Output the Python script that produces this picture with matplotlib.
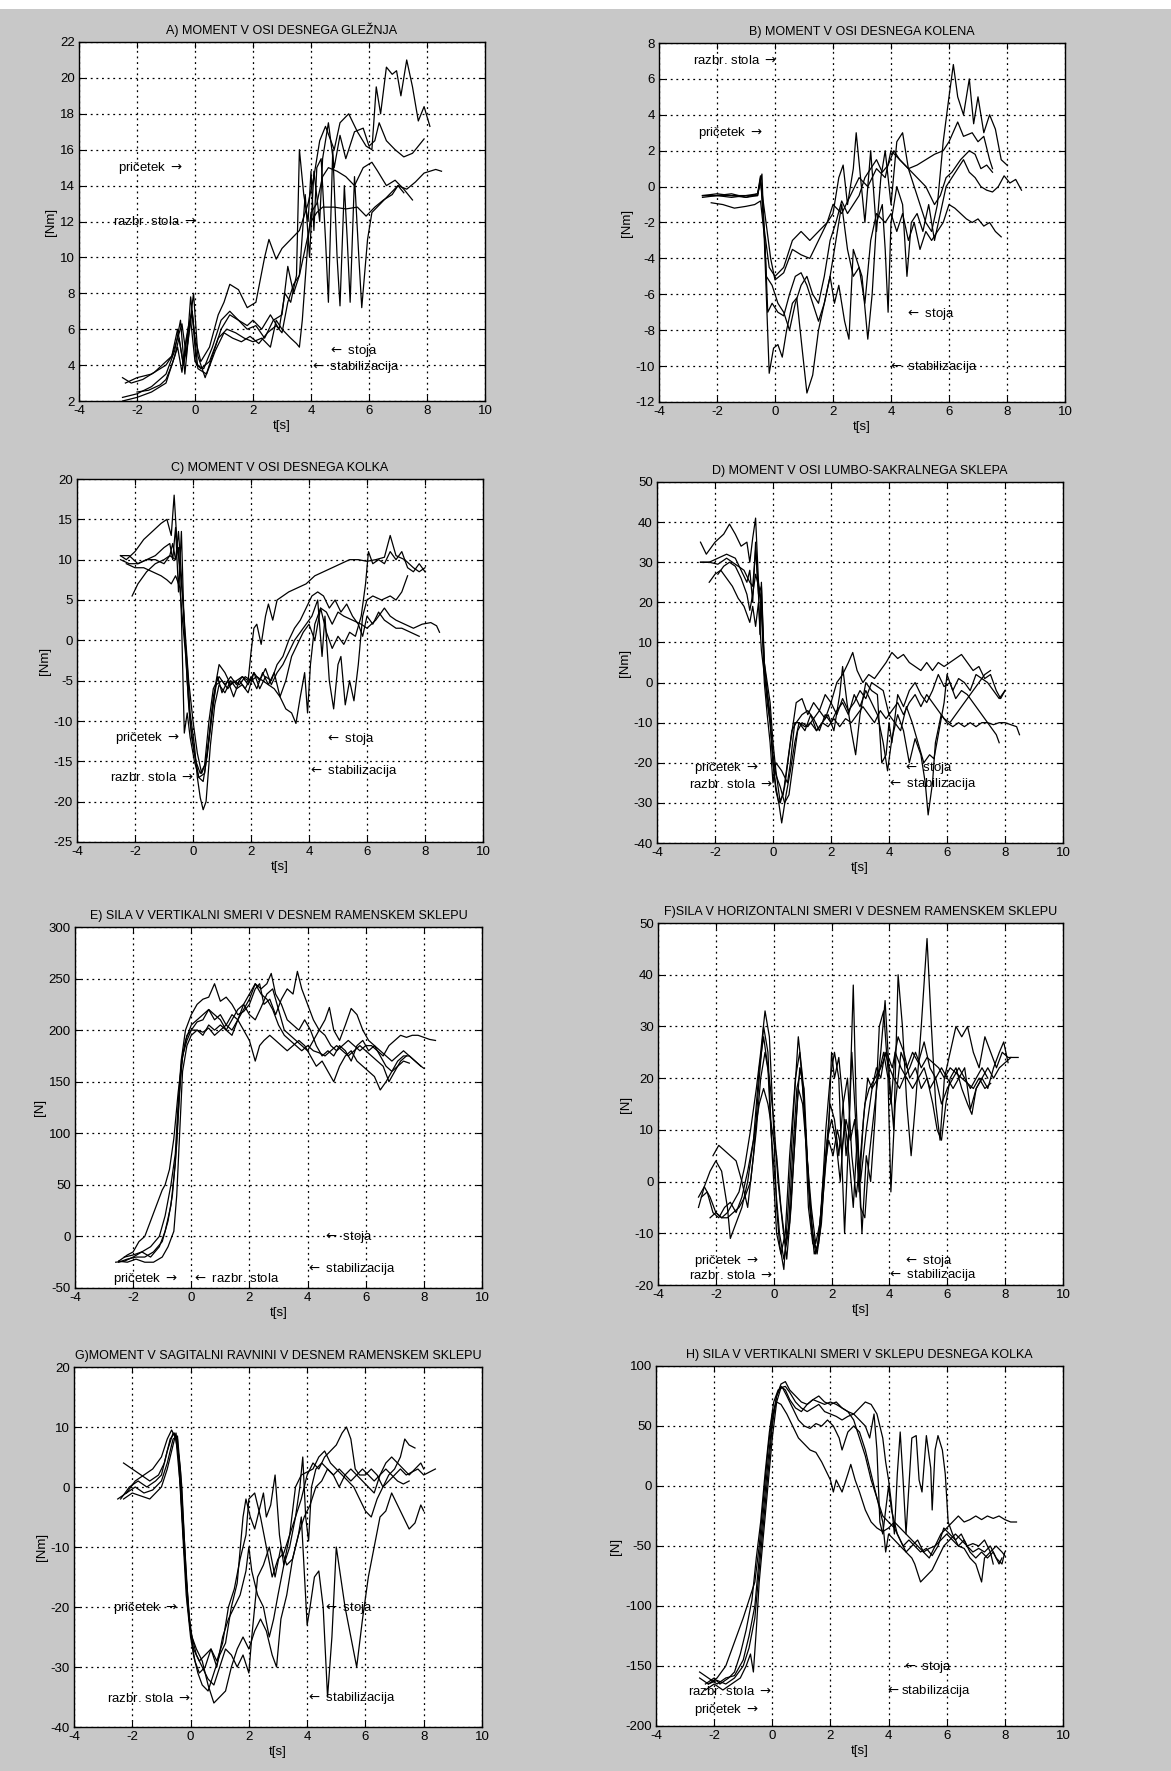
import matplotlib
matplotlib.use('Agg')
import matplotlib.pyplot as plt
from matplotlib.patches import Rectangle

plt.rcParams['font.family'] = ['Liberation Sans', 'DejaVu Sans']
plt.rcParams['mathtext.fontset'] = 'dejavusans'

RA = r'$\rightarrow$'
LA = r'$\leftarrow$'

# ---------------- A) ankle moment [Nm] ----------------
A1_t = [-2.5,-2.2,-1.8,-1.4,-1.0,-0.8,-0.6,-0.45,-0.3,-0.15,0.0,0.2,0.5,0.8,1.0,1.2,1.5,1.8,2.1,2.4,2.55,2.8,3.0,3.3,3.6,3.9,4.1,4.3,4.5,4.8,5.0,5.3,5.6,5.9,6.1,6.25,6.4,6.6,6.8,6.95,7.1,7.3,7.5,7.7,7.9,8.1]
A1_y = [3.3,3.0,3.2,3.6,4.2,4.5,5.5,6.3,4.5,7.8,5.5,4.2,5.0,6.8,7.5,8.5,8.2,7.2,7.5,10.0,11.0,9.9,10.5,11.0,11.5,13.0,14.5,16.5,17.3,16.0,17.5,18.0,17.0,16.2,16.0,19.5,18.0,20.6,20.2,20.4,19.0,21.0,19.5,17.6,18.4,17.3]
A2_t = [-2.5,-2.0,-1.5,-1.0,-0.7,-0.5,-0.35,-0.2,-0.05,0.1,0.35,0.6,0.9,1.2,1.5,1.8,2.1,2.4,2.7,3.0,3.2,3.4,3.6,3.8,3.95,4.1,4.3,4.4,4.6,4.8,5.0,5.2,5.5,5.8,6.0,6.2,6.35,6.6,6.9,7.2,7.5,7.8,7.9]
A2_y = [2.2,2.4,2.8,3.5,4.8,6.5,3.5,6.0,8.0,4.5,3.3,4.5,6.0,6.8,6.5,6.0,6.2,5.5,6.5,6.8,9.5,8.0,9.0,13.5,10.0,14.8,12.0,15.5,17.5,15.0,16.8,15.5,17.0,17.2,16.2,16.5,17.5,16.5,16.0,15.6,15.8,16.4,16.6]
A3_t = [-2.4,-2.0,-1.5,-1.0,-0.8,-0.6,-0.4,-0.25,-0.1,0.05,0.3,0.6,0.9,1.2,1.5,1.8,2.0,2.3,2.6,2.9,3.1,3.3,3.5,3.6,3.75,3.9,4.0,4.1,4.2,4.35,4.5,4.6,4.75,4.9,5.0,5.15,5.25,5.35,5.5,5.65,5.75,5.95,6.1,6.4,6.7,7.0,7.3,7.6,7.9,8.1,8.3,8.5]
A3_y = [3.0,3.3,3.5,4.0,4.5,6.0,4.0,5.2,7.0,4.0,3.8,5.0,6.5,7.0,6.5,6.2,6.5,6.0,6.8,6.0,8.0,7.5,9.0,16.0,13.5,12.0,14.8,11.5,15.0,15.5,11.0,7.5,16.0,10.0,7.3,14.0,11.0,7.5,14.5,10.0,7.2,11.0,12.5,13.0,13.5,14.0,13.8,14.2,14.7,14.8,14.9,14.8]
A4_t = [-2.0,-1.6,-1.2,-1.0,-0.8,-0.6,-0.45,-0.3,-0.15,0.0,0.2,0.5,0.8,1.1,1.4,1.7,2.0,2.3,2.6,2.8,3.0,3.3,3.5,3.6,3.7,3.9,4.0,4.2,4.4,4.6,4.9,5.2,5.5,5.8,6.1,6.3,6.6,6.9,7.2,7.5]
A4_y = [2.5,2.6,2.9,3.2,4.0,5.0,3.6,5.5,6.5,4.2,3.8,4.2,5.5,6.0,5.8,5.5,5.3,5.5,5.0,6.5,6.0,5.5,5.2,5.0,6.5,11.0,12.5,13.0,14.5,15.0,14.8,14.5,14.0,15.0,15.3,14.8,14.0,14.3,13.8,13.2]
A5_t = [-2.5,-2.0,-1.5,-1.0,-0.7,-0.55,-0.4,-0.25,-0.1,0.1,0.4,0.7,1.0,1.3,1.6,1.9,2.2,2.5,2.8,3.0,3.2,3.4,3.6,3.8,4.0,4.2,4.4,4.8,5.2,5.6,5.9,6.2,6.5,6.8,7.0,7.2]
A5_y = [2.0,2.2,2.5,3.0,4.5,5.5,4.0,6.0,7.0,3.8,3.5,4.8,5.8,5.5,5.3,5.6,5.2,5.8,6.2,5.8,7.5,8.5,9.0,10.5,12.0,12.5,12.8,12.8,12.7,12.8,12.3,12.8,13.2,13.5,14.0,13.6]

# ---------------- B) knee moment [Nm] ----------------
B1_t = [-2.5,-2.0,-1.5,-1.0,-0.6,-0.5,-0.4,-0.2,0.0,0.3,0.6,0.9,1.2,1.5,1.8,2.0,2.2,2.35,2.5,2.7,2.8,2.95,3.1,3.3,3.5,3.65,3.8,4.0,4.2,4.4,4.6,4.8,5.0,5.2,5.4,5.6,5.8,6.0,6.15,6.3,6.5,6.7,6.85,7.0,7.2,7.4,7.6,7.8,8.0]
B1_y = [-0.5,-0.5,-0.6,-0.5,-0.4,0.6,-2.0,-4.5,-5.0,-4.5,-3.0,-2.5,-3.0,-2.5,-2.0,-1.5,0.5,1.2,-1.0,1.0,3.0,0.5,-2.0,2.0,-2.5,0.5,2.0,-1.0,2.5,3.0,1.0,0.0,-1.0,-2.0,-2.5,-1.0,2.5,5.0,6.8,5.0,4.0,6.0,3.5,5.0,3.0,4.0,3.2,1.5,1.2]
B2_t = [-2.5,-2.0,-1.5,-1.0,-0.6,-0.5,-0.35,-0.15,0.0,0.3,0.6,0.9,1.2,1.5,1.8,2.0,2.3,2.6,2.9,3.2,3.5,3.8,4.0,4.3,4.6,4.9,5.2,5.5,5.8,6.0,6.3,6.5,6.8,7.0,7.2,7.4,7.5]
B2_y = [-0.5,-0.4,-0.5,-0.6,-0.4,0.3,-1.5,-4.0,-5.2,-4.8,-3.5,-3.8,-4.0,-3.0,-2.0,-1.0,-1.5,-0.5,0.5,0.0,1.0,0.5,2.0,1.5,1.0,1.2,1.5,1.8,2.0,2.5,3.6,2.8,3.0,2.5,2.8,1.5,1.0]
B3_t = [-2.5,-2.0,-1.5,-1.0,-0.6,-0.45,-0.3,-0.2,-0.05,0.1,0.25,0.4,0.6,0.75,0.9,1.1,1.3,1.5,1.7,1.9,2.05,2.2,2.4,2.55,2.7,2.9,3.0,3.2,3.35,3.5,3.7,3.8,3.9,4.0,4.2,4.4,4.55,4.7,4.9,5.1,5.3,5.5,5.7,5.9,6.1,6.3,6.5,6.7,6.9,7.1,7.3,7.5,7.7,7.9,8.1,8.3,8.5]
B3_y = [-0.6,-0.5,-0.5,-0.5,-0.5,0.7,-6.0,-10.4,-9.0,-8.8,-9.5,-8.0,-6.5,-6.2,-8.5,-11.5,-10.5,-8.0,-6.5,-5.0,-6.5,-5.5,-7.5,-8.5,-3.5,-4.5,-5.0,-8.5,-6.0,-2.0,-1.0,-3.5,-7.0,-2.0,0.0,-1.0,-5.0,-2.0,-1.5,-2.5,-1.0,-3.0,-1.5,0.0,0.5,1.0,1.5,0.8,0.5,0.0,-0.2,-0.3,0.0,0.6,0.2,0.4,-0.2]
B4_t = [-2.2,-1.8,-1.4,-1.0,-0.7,-0.5,-0.35,-0.25,-0.1,0.1,0.3,0.5,0.7,0.9,1.1,1.3,1.5,1.7,1.9,2.1,2.3,2.5,2.7,2.9,3.1,3.3,3.5,3.8,4.0,4.2,4.4,4.6,4.8,5.0,5.2,5.4,5.6,5.8,6.0,6.2,6.4,6.6,6.8,7.0,7.2,7.4,7.6,7.8]
B4_y = [-0.9,-1.0,-1.2,-1.1,-1.0,-0.8,-3.0,-7.0,-6.5,-7.0,-7.2,-6.0,-5.0,-4.8,-5.5,-6.5,-7.5,-6.5,-5.0,-3.0,-1.0,-3.5,-5.0,-4.5,-6.5,-3.0,-1.5,-2.0,-1.5,-2.5,-1.5,-3.0,-2.0,-3.5,-2.5,-3.0,-2.5,-2.0,-1.0,-1.2,-1.5,-1.8,-2.0,-1.8,-2.2,-2.0,-2.5,-2.8]
B5_t = [-2.5,-2.0,-1.5,-1.0,-0.6,-0.5,-0.4,-0.3,-0.1,0.1,0.3,0.5,0.7,0.9,1.1,1.3,1.5,1.7,1.9,2.1,2.3,2.5,2.7,2.9,3.1,3.3,3.5,3.7,3.9,4.1,4.3,4.6,4.9,5.2,5.5,5.7,5.9,6.1,6.4,6.7,6.9,7.1,7.3,7.5]
B5_y = [-0.5,-0.5,-0.4,-0.6,-0.5,0.5,-1.5,-5.0,-5.5,-6.5,-7.0,-8.0,-6.5,-5.5,-5.0,-6.0,-6.5,-5.0,-3.0,-2.0,-0.8,-1.5,-1.0,-0.5,0.5,1.0,1.5,0.8,1.2,2.0,1.5,1.0,0.5,0.0,-1.0,-0.5,0.5,0.8,1.5,2.0,1.8,1.0,1.2,0.8]

# ---------------- C) hip moment [Nm] ----------------
C1_t = [-2.5,-2.3,-2.0,-1.7,-1.4,-1.1,-0.9,-0.75,-0.65,-0.55,-0.45,-0.35,-0.25,-0.15,0.0,0.15,0.3,0.45,0.6,0.8,0.9,1.1,1.3,1.5,1.7,1.9,2.0,2.1,2.2,2.35,2.5,2.6,2.75,2.9,3.1,3.3,3.6,3.9,4.2,4.5,4.8,5.1,5.4,5.7,6.0,6.3,6.6,6.8,7.0,7.3,7.6,7.8,8.0]
C1_y = [10.5,10.0,11.0,12.5,13.5,14.5,15.0,13.0,18.0,12.0,9.0,5.0,0.0,-5.0,-10.0,-14.0,-16.5,-15.0,-11.0,-5.0,-3.0,-4.0,-5.5,-5.0,-4.5,-5.0,-1.5,1.5,2.0,-0.5,3.0,4.5,2.5,5.0,5.5,6.0,6.5,7.0,8.0,8.5,9.0,9.5,10.0,10.0,9.8,10.0,10.3,13.0,10.5,10.0,9.0,8.5,9.0]
C2_t = [-2.1,-1.9,-1.6,-1.3,-1.0,-0.8,-0.6,-0.5,-0.4,-0.3,-0.2,-0.1,0.05,0.2,0.35,0.5,0.65,0.8,1.0,1.2,1.4,1.6,1.8,2.0,2.2,2.4,2.6,2.8,3.0,3.2,3.4,3.55,3.7,3.85,3.95,4.05,4.2,4.4,4.6,4.8,5.0,5.2,5.5,5.8,6.0,6.3,6.6,6.8,7.0,7.3,7.6,7.9,8.2,8.4,8.5]
C2_y = [5.5,7.0,8.5,9.5,10.0,10.5,10.0,13.5,8.0,2.0,-5.0,-10.0,-14.0,-17.0,-17.5,-14.0,-9.0,-5.5,-5.0,-6.0,-5.0,-5.5,-4.5,-5.0,-4.5,-5.0,-5.5,-6.0,-7.0,-8.5,-9.0,-10.3,-7.0,-4.0,-9.0,-3.0,2.0,4.0,3.5,2.0,3.5,3.0,2.5,2.0,1.5,2.5,4.0,3.0,2.5,2.0,1.5,2.0,2.2,1.8,1.0]
C3_t = [-2.5,-2.2,-1.9,-1.6,-1.3,-1.0,-0.8,-0.7,-0.6,-0.5,-0.4,-0.3,-0.2,-0.1,0.05,0.15,0.25,0.35,0.45,0.6,0.75,0.9,1.1,1.3,1.5,1.7,1.9,2.1,2.3,2.5,2.7,2.9,3.1,3.3,3.5,3.7,3.9,4.1,4.3,4.45,4.55,4.7,4.85,5.0,5.1,5.25,5.4,5.55,5.7,5.85,6.0,6.2,6.5,6.8,7.0,7.2,7.4]
C3_y = [10.0,9.5,9.5,10.0,10.5,11.5,12.0,10.0,14.0,6.0,13.5,1.0,-3.0,-9.0,-13.0,-17.0,-19.5,-21.0,-20.0,-13.0,-8.0,-5.5,-6.5,-5.0,-6.0,-5.5,-6.5,-4.0,-5.0,-3.5,-5.5,-4.0,-3.0,-1.5,0.0,1.0,2.0,3.0,5.0,-2.0,3.0,-5.0,-8.5,-3.0,-2.0,-8.0,-5.0,-7.5,-3.0,3.0,5.0,5.5,5.0,5.5,5.0,6.0,8.0]
C4_t = [-2.3,-2.0,-1.7,-1.4,-1.1,-0.9,-0.75,-0.6,-0.45,-0.35,-0.25,-0.15,-0.05,0.1,0.25,0.4,0.55,0.7,0.9,1.1,1.3,1.5,1.7,1.9,2.1,2.3,2.5,2.7,2.9,3.1,3.3,3.5,3.7,3.9,4.1,4.3,4.5,4.7,4.9,5.1,5.3,5.5,5.7,5.85,6.0,6.2,6.4,6.6,6.8,7.0,7.2,7.5,7.8]
C4_y = [9.5,9.0,9.0,8.5,8.0,7.5,7.0,8.0,6.5,2.0,-2.0,-8.0,-12.0,-15.0,-16.5,-15.5,-10.0,-6.0,-4.5,-5.5,-4.5,-5.5,-4.5,-5.5,-4.0,-6.0,-4.5,-5.0,-3.0,-2.0,0.0,1.5,2.5,4.0,5.5,6.0,5.5,4.0,5.0,3.5,4.5,3.0,2.0,0.5,3.0,2.0,3.5,2.5,2.0,1.5,1.5,1.0,0.5]
C5_t = [-2.5,-2.2,-1.9,-1.6,-1.3,-1.0,-0.8,-0.7,-0.6,-0.5,-0.4,-0.3,-0.2,-0.1,0.05,0.2,0.4,0.55,0.7,0.85,1.0,1.2,1.4,1.6,1.8,2.0,2.2,2.4,2.6,2.8,3.0,3.2,3.4,3.6,3.8,4.0,4.2,4.4,4.6,4.8,5.0,5.2,5.4,5.6,5.8,5.95,6.05,6.2,6.4,6.6,6.8,7.0,7.2,7.4,7.6,7.8,8.0]
C5_y = [10.5,10.5,9.5,10.0,10.0,9.5,10.5,12.0,10.0,11.5,3.0,-11.5,-9.0,-12.0,-15.0,-17.0,-16.5,-12.0,-7.0,-4.5,-6.5,-5.0,-7.0,-5.0,-6.0,-4.5,-6.0,-4.0,-5.5,-4.0,-7.0,-5.0,-2.0,-0.5,1.0,2.0,0.0,4.0,1.0,-1.0,0.5,-0.5,1.0,0.5,3.0,7.0,11.0,9.5,10.0,9.5,11.0,10.0,11.0,9.0,8.5,9.5,8.5]

# ---------------- D) lumbo-sacral moment [Nm] ----------------
D1_t = [-2.5,-2.3,-2.0,-1.7,-1.5,-1.3,-1.1,-0.9,-0.8,-0.7,-0.6,-0.5,-0.4,-0.3,-0.2,-0.1,0.0,0.1,0.25,0.4,0.6,0.8,1.0,1.2,1.4,1.6,1.8,2.0,2.2,2.4,2.6,2.75,2.9,3.1,3.3,3.5,3.7,3.9,4.1,4.3,4.5,4.7,4.9,5.1,5.3,5.5,5.7,5.9,6.1,6.3,6.5,6.7,6.9,7.1,7.3,7.5,7.7,7.85,8.0]
D1_y = [35,32,35,37,39.5,37,34,35,30,36,41,25,20,5,0,-5,-15,-22,-30,-26,-15,-5,-4,-8,-5,-7,-3,-5,0,2,5,7.5,3,0,2,1,3,5,7.5,6,7,5,4,3,5,3,5,4,5,6,7,5,3,4,1,2,-2,-4,-2]
D2_t = [-2.5,-2.2,-1.9,-1.6,-1.4,-1.2,-1.0,-0.8,-0.7,-0.6,-0.5,-0.4,-0.3,-0.2,-0.1,0.0,0.1,0.2,0.3,0.45,0.6,0.75,0.9,1.1,1.3,1.5,1.7,1.9,2.1,2.3,2.4,2.55,2.7,2.85,3.0,3.2,3.4,3.6,3.75,3.9,4.0,4.1,4.3,4.5,4.7,4.9,5.1,5.3,5.5,5.7,5.9,6.1,6.3,6.5,6.7,6.9,7.1,7.3,7.5,7.7,7.8]
D2_y = [30,30,29.5,31,30,29,28,25,24,33,22,24,3,-5,-10,-20,-26,-30,-35,-28,-22,-15,-10,-12,-8,-12,-10,-8,-12,-3,4,-5,-12,-18,-8,0,-2,-3,-20,-18,-10,-15,-3,-6,-2,0,-3,-5,-2,2,-1,0,-4,-2,-3,-5,-7,-9,-11,-13,-15]
D3_t = [-2.2,-2.0,-1.8,-1.6,-1.4,-1.2,-1.0,-0.8,-0.7,-0.6,-0.5,-0.4,-0.3,-0.2,-0.1,0.0,0.1,0.25,0.4,0.55,0.7,0.85,1.0,1.2,1.4,1.6,1.8,2.0,2.2,2.4,2.6,2.8,3.0,3.2,3.4,3.6,3.8,3.95,4.1,4.3,4.5,4.7,4.9,5.1,5.25,5.35,5.5,5.6,5.8,6.0,6.2,6.4,6.6,6.8,7.0,7.2,7.4,7.6,7.8,8.0,8.2,8.4,8.5]
D3_y = [25,27,28,26,24,21,19,15,19,14,20,8,2,-3,-10,-18,-23,-26,-30,-28,-20,-12,-10,-11,-9,-12,-8,-10,-7,-5,-8,-3,-6,-2,-5,-8,-15,-22,-14,-8,-12,-20,-14,-18,-25,-33,-25,-15,-8,-10,-11,-10,-11,-10,-11,-10,-10,-10.5,-10,-10,-10.5,-11,-13]
D4_t = [-2.5,-2.2,-1.9,-1.6,-1.3,-1.1,-0.9,-0.8,-0.7,-0.6,-0.5,-0.45,-0.4,-0.3,-0.2,-0.1,0.0,0.1,0.2,0.35,0.5,0.65,0.8,1.0,1.2,1.4,1.6,1.8,2.0,2.2,2.4,2.6,2.8,3.0,3.2,3.4,3.6,3.8,4.0,4.2,4.4,4.6,4.8,5.0,5.2,5.4,5.55,5.7,5.9,6.0,6.2,6.4,6.6,6.8,7.0,7.2,7.4,7.6,7.8,8.0]
D4_y = [30,30,31,32,31,28,25,28,20,35,22,12,25,5,-2,-8,-20,-27,-30,-28,-20,-12,-10,-8,-7,-9,-7,-9,-5,-8,-4,-7,-5,-2,-4,0,-1,-2,-8,-10,-12,-6,-10,-15,-20,-18,-19,-13,-5,2,-2,1,0,-2,2,1,0,-2,-4,-2]
D5_t = [-1.9,-1.7,-1.5,-1.3,-1.1,-0.9,-0.8,-0.7,-0.6,-0.5,-0.4,-0.3,-0.2,-0.1,0.0,0.1,0.3,0.5,0.6,0.75,0.9,1.1,1.3,1.5,1.7,1.9,2.1,2.3,2.5,2.7,2.9,3.1,3.3,3.5,3.7,3.9,4.1,4.3,4.5,4.7,4.9,5.1,5.3,5.5,5.7,5.9,6.1,6.3,6.5,6.7,6.9,7.1,7.3,7.5]
D5_y = [27,29,30,29,26,22,18,22,27,24,18,0,-8,-15,-25,-20,-22,-25,-20,-10,-10,-11,-10,-12,-10,-11,-9,-11,-9,-10,-8,-6,-8,-10,-7,-9,-7,-5,-8,-5,-3,-6,-3,-5,-7,-9,-10,-8,-6,-4,-2,0,2,3]

# ---------------- E) vertical force, right shoulder [N] ----------------
E1_t = [-2.6,-2.3,-2.0,-1.7,-1.4,-1.1,-0.9,-0.7,-0.55,-0.45,-0.35,-0.2,0.0,0.2,0.4,0.6,0.8,1.0,1.2,1.4,1.6,1.8,2.0,2.2,2.35,2.5,2.7,2.9,3.1,3.3,3.5,3.65,3.8,4.0,4.2,4.4,4.6,4.8,5.0,5.2,5.4,5.6,5.8,6.0,6.2,6.4,6.6,6.8,7.0,7.2,7.4,7.6,7.8,8.0,8.2,8.4]
E1_y = [-25,-24,-20,-15,-10,0,20,50,80,130,170,200,215,225,230,232,245,228,232,225,215,218,225,240,245,225,230,215,230,240,235,257,240,225,210,200,195,185,180,185,190,185,180,185,185,180,175,185,190,195,193,195,195,193,191,190]
E2_t = [-2.5,-2.2,-1.9,-1.6,-1.3,-1.0,-0.8,-0.65,-0.5,-0.4,-0.3,-0.15,0.0,0.2,0.4,0.6,0.8,1.0,1.2,1.4,1.6,1.8,2.0,2.2,2.4,2.6,2.8,3.0,3.2,3.4,3.6,3.8,4.0,4.2,4.4,4.6,4.75,4.9,5.1,5.3,5.5,5.7,5.9,6.1,6.3,6.5,6.7,6.9,7.1,7.3,7.5,7.7,7.9,8.0]
E2_y = [-25,-22,-20,-20,-15,-5,15,40,90,140,175,195,200,200,195,205,200,205,200,210,220,225,215,210,222,235,240,220,200,195,190,185,180,190,200,210,222,200,190,205,221,215,200,190,185,180,175,170,175,180,175,170,165,163]
E3_t = [-2.5,-2.2,-1.9,-1.6,-1.3,-1.0,-0.8,-0.6,-0.5,-0.4,-0.3,-0.15,0.0,0.2,0.4,0.6,0.8,1.0,1.2,1.4,1.6,1.8,2.0,2.2,2.35,2.5,2.7,2.9,3.1,3.3,3.5,3.7,3.9,4.1,4.3,4.5,4.7,4.9,5.1,5.3,5.5,5.7,5.9,6.1,6.3,6.5,6.7,6.9,7.1,7.3,7.5]
E3_y = [-24,-25,-22,-25,-25,-20,-10,5,40,100,160,185,195,200,198,202,195,200,205,215,210,200,190,170,185,190,195,190,185,180,185,190,185,175,165,170,160,150,165,175,180,170,165,160,155,142,150,160,165,170,168]
E4_t = [-2.3,-2.0,-1.7,-1.4,-1.1,-0.9,-0.7,-0.55,-0.45,-0.35,-0.2,0.0,0.2,0.4,0.6,0.8,1.0,1.2,1.4,1.6,1.8,2.0,2.2,2.4,2.6,2.75,2.9,3.1,3.3,3.5,3.7,3.9,4.1,4.3,4.5,4.7,4.9,5.1,5.3,5.5,5.7,5.9,6.1,6.3,6.5,6.7,6.9,7.1,7.3,7.5,7.7,7.9]
E4_y = [-20,-18,-15,-20,-10,5,30,70,120,165,190,205,210,215,220,210,215,205,200,210,225,235,245,240,245,255,235,225,210,205,200,210,200,185,175,180,175,185,180,170,185,190,180,185,175,165,160,170,175,175,170,165]
E5_t = [-2.5,-2.2,-2.0,-1.8,-1.6,-1.4,-1.2,-1.0,-0.9,-0.75,-0.6,-0.45,-0.3,-0.15,0.0,0.2,0.4,0.6,0.8,1.0,1.2,1.4,1.6,1.8,2.0,2.2,2.4,2.6,2.8,3.0,3.2,3.4,3.6,3.8,4.0,4.2,4.4,4.6,4.8,5.0,5.2,5.4,5.6,5.8,6.0,6.2,6.4,6.6,6.8,7.0,7.2,7.4]
E5_y = [-24,-18,-15,-5,0,15,30,45,50,65,95,140,175,190,200,208,210,220,215,210,200,195,210,220,230,245,235,230,220,205,195,190,185,180,185,180,178,175,180,185,180,175,180,185,180,175,170,165,150,160,170,175]

# ---------------- F) horizontal force, right shoulder [N] ----------------
F1_t = [-2.6,-2.4,-2.2,-2.0,-1.8,-1.6,-1.4,-1.2,-1.0,-0.8,-0.6,-0.45,-0.3,-0.15,0.0,0.1,0.2,0.35,0.5,0.7,0.85,1.0,1.15,1.3,1.45,1.6,1.75,1.9,2.0,2.1,2.25,2.4,2.5,2.6,2.75,2.85,3.0,3.15,3.3,3.5,3.7,3.85,4.0,4.15,4.3,4.45,4.6,4.75,4.9,5.1,5.3,5.45,5.6,5.75,5.9,6.1,6.3,6.5,6.7,6.9,7.1,7.3,7.5,7.7,7.9,8.1,8.3,8.45]
F1_y = [-3,-1,-3,-6,-7,-6,-4,-2,3,10,18,25,33,28,10,-5,-12,-17,-5,15,28,20,5,-8,-14,-10,0,10,25,20,24,15,5,10,38,15,-5,-7,5,15,25,35,20,10,40,30,15,5,15,30,47,30,15,8,20,25,30,28,30,25,22,28,25,22,25,24,24,24]
F2_t = [-2.1,-1.9,-1.7,-1.5,-1.3,-1.1,-0.9,-0.7,-0.5,-0.35,-0.2,-0.05,0.1,0.25,0.4,0.55,0.75,0.9,1.05,1.2,1.35,1.5,1.65,1.8,1.95,2.1,2.25,2.35,2.45,2.6,2.7,2.85,3.0,3.2,3.4,3.6,3.8,3.95,4.05,4.2,4.4,4.6,4.8,5.0,5.2,5.4,5.6,5.8,6.0,6.2,6.4,6.6,6.8,7.0,7.2,7.4,7.6,7.8,7.95,8.1]
F2_y = [5,7,6,5,4,0,-5,5,20,30,25,5,-10,-14,-10,5,20,25,15,-5,-12,-13,-5,10,20,25,20,5,-10,10,25,10,0,10,18,20,25,20,-2,15,25,22,25,23,27,22,20,22,20,18,20,22,14,18,20,18,22,25,27,23]
F3_t = [-2.6,-2.4,-2.2,-2.0,-1.8,-1.6,-1.5,-1.3,-1.1,-0.9,-0.7,-0.5,-0.35,-0.2,-0.1,0.05,0.2,0.35,0.5,0.65,0.8,0.95,1.1,1.25,1.4,1.55,1.7,1.85,2.0,2.15,2.3,2.45,2.6,2.75,2.9,3.05,3.2,3.35,3.5,3.65,3.8,3.9,4.05,4.2,4.4,4.6,4.8,5.0,5.2,5.4,5.6,5.8,6.0,6.2,6.4,6.6,6.8,7.0,7.2,7.4]
F3_y = [-5,-1,2,4,2,-5,-11,-8,-5,0,8,22,28,22,10,0,-10,-15,-10,5,18,22,10,-5,-14,-12,0,8,12,8,0,12,5,-5,10,-10,5,0,12,30,33,25,15,25,22,20,18,20,22,18,20,15,18,20,22,20,18,20,22,20]
F4_t = [-2.2,-2.0,-1.8,-1.6,-1.4,-1.2,-1.0,-0.8,-0.6,-0.45,-0.3,-0.15,0.0,0.15,0.3,0.45,0.6,0.75,0.9,1.05,1.2,1.35,1.5,1.65,1.8,1.95,2.1,2.25,2.4,2.55,2.7,2.85,3.0,3.15,3.3,3.5,3.7,3.9,4.1,4.3,4.5,4.7,4.9,5.1,5.3,5.5,5.65,5.8,5.95,6.1,6.3,6.5,6.7,6.85,7.0,7.2,7.4,7.6,7.8,8.0,8.2]
F4_y = [-7,-6,-7,-7,-6,-5,-3,0,10,20,25,20,12,0,-8,-15,-5,10,22,18,0,-10,-14,-8,5,15,12,5,15,20,5,-3,5,15,18,20,22,25,22,28,25,20,22,18,20,15,10,8,15,20,22,18,15,13,18,20,22,20,22,23,24]
F5_t = [-2.5,-2.3,-2.1,-1.9,-1.7,-1.5,-1.3,-1.1,-0.9,-0.7,-0.5,-0.35,-0.2,0.0,0.1,0.25,0.4,0.55,0.7,0.85,1.0,1.15,1.3,1.45,1.6,1.75,1.9,2.05,2.2,2.35,2.5,2.65,2.8,2.95,3.1,3.25,3.4,3.55,3.7,3.85,4.0,4.15,4.35,4.5,4.7,4.9,5.1,5.3,5.5,5.7,5.9,6.1,6.3,6.5,6.7,6.9,7.1,7.3,7.5]
F5_y = [-3,-2,-6,-7,-5,-4,-6,-3,2,8,15,18,15,8,5,-5,-12,-8,5,18,15,5,-5,-12,-8,2,8,5,10,6,12,8,12,-2,12,20,18,22,20,25,22,20,18,20,22,25,22,24,23,22,20,22,21,20,19,18,20,18,19]

# ---------------- G) sagittal moment, right shoulder [Nm] ----------------
G1_t = [-2.3,-2.0,-1.7,-1.4,-1.1,-0.9,-0.7,-0.55,-0.4,-0.25,-0.1,0.05,0.2,0.4,0.6,0.8,1.0,1.2,1.4,1.6,1.8,2.0,2.2,2.4,2.6,2.8,2.95,3.1,3.3,3.5,3.7,3.8,3.9,4.0,4.1,4.25,4.4,4.55,4.7,4.85,5.0,5.15,5.3,5.5,5.7,5.9,6.1,6.3,6.5,6.7,6.9,7.1,7.3,7.5,7.7,7.9,8.0]
G1_y = [4,3,2,1,2,4,8,9,5,-8,-20,-25,-27,-29,-33,-36,-35,-34,-30,-27,-25,-27,-24,-22,-24,-28,-30,-22,-18,-12,-8,-5,-14,-23,-20,-15,-14,-20,-35,-25,-10,-15,-20,-25,-30,-22,-15,-10,-5,-4,-1,-3,-5,-7,-6,-3,-4]
G2_t = [-2.5,-2.2,-1.9,-1.6,-1.3,-1.0,-0.8,-0.65,-0.5,-0.35,-0.2,-0.05,0.1,0.3,0.5,0.7,0.9,1.1,1.3,1.5,1.7,1.9,2.0,2.2,2.4,2.6,2.8,3.0,3.2,3.4,3.6,3.8,4.0,4.2,4.4,4.6,4.8,5.0,5.2,5.35,5.5,5.65,5.8,6.0,6.2,6.4,6.6,6.8,7.0,7.2,7.4,7.6,7.8,8.0,8.2,8.4]
G2_y = [-2,-1,1,2,3,5,8,9.5,8,0,-12,-22,-27,-29,-28,-27,-29,-26,-20,-17,-12,-8,-2,-1,-5,-10,-15,-12,-11,-8,-5,-2,2,4,3,5,6,7,9,10,8,3,2,2,3,2,0,1,2,3,2,2.5,3,2,2.5,3]
G3_t = [-2.4,-2.1,-1.8,-1.5,-1.2,-1.0,-0.8,-0.6,-0.45,-0.3,-0.15,0.0,0.15,0.3,0.5,0.7,0.9,1.1,1.3,1.5,1.7,1.9,2.0,2.1,2.3,2.5,2.7,2.85,3.0,3.2,3.4,3.6,3.75,3.85,3.95,4.05,4.15,4.3,4.5,4.7,4.9,5.1,5.3,5.5,5.7,5.9,6.1,6.3,6.5,6.7,6.9,7.1,7.3,7.5]
G3_y = [-2,0,1,0,1,2,6,9,8,-5,-18,-25,-29,-31,-30,-27,-30,-25,-22,-20,-18,-14,-10,-14,-18,-20,-25,-22,-18,-13,-10,-5,0,5,-5,-9,0,3,4,3,2,3,2,1,2,3,2,1,2,3,2,1,0.5,1]
G4_t = [-2.3,-2.0,-1.7,-1.4,-1.2,-1.0,-0.8,-0.6,-0.5,-0.35,-0.2,-0.05,0.1,0.25,0.4,0.6,0.8,1.0,1.2,1.4,1.6,1.8,1.9,2.05,2.2,2.35,2.5,2.6,2.75,2.9,3.05,3.2,3.4,3.6,3.8,4.0,4.2,4.4,4.6,4.8,5.0,5.2,5.4,5.6,5.8,6.0,6.2,6.4,6.6,6.8,7.0,7.2,7.35,7.5,7.7]
G4_y = [-2,-1,-1.5,-2,-1,0,3,7,9,3,-10,-22,-28,-31,-33,-34,-31,-28,-26,-20,-16,-5,-2,-5,-7,-4,-1,-5,-3,2,-8,-13,-8,0,2,2.5,3,5,6,4,3,2,1,0,-2,-4,-5,-2,0,2,3,5,8,7,6.5]
G5_t = [-2.2,-1.9,-1.6,-1.3,-1.0,-0.8,-0.6,-0.45,-0.3,-0.15,0.0,0.2,0.4,0.6,0.8,1.0,1.2,1.4,1.6,1.8,2.0,2.1,2.3,2.5,2.7,2.9,3.1,3.3,3.5,3.7,3.9,4.1,4.3,4.5,4.7,4.9,5.1,5.3,5.5,5.7,5.9,6.1,6.3,6.5,6.7,6.9,7.1,7.3,7.5,7.7,7.9,8.0]
G5_y = [-1,0,-1,-0.5,1,4,8,8.5,0,-15,-24,-28,-30,-32,-33,-30,-27,-28,-30,-28,-31,-25,-15,-13,-10,-15,-10,-13,-12,-8,-5,-3,0,1,3,2,0,2,3,2,1,0,-1,2,4,5,4,3,2,3,4,3]

# ---------------- H) vertical force, right hip joint [N] ----------------
H1_t = [-2.5,-2.2,-1.9,-1.6,-1.3,-1.0,-0.8,-0.6,-0.45,-0.3,-0.15,0.0,0.15,0.3,0.5,0.7,0.9,1.1,1.3,1.5,1.7,1.9,2.0,2.1,2.2,2.4,2.6,2.7,2.85,3.0,3.2,3.4,3.6,3.8,4.0,4.2,4.4,4.6,4.8,5.0,5.2,5.4,5.6,5.8,6.0,6.2,6.4,6.6,6.8,7.0,7.2,7.4,7.6,7.8,8.0,8.2,8.4]
H1_y = [-160,-165,-160,-150,-130,-110,-95,-80,-50,-10,30,60,70,68,60,50,40,35,30,28,20,10,5,-5,5,-5,10,18,5,-5,-20,-30,-35,-38,-35,-30,-35,-40,-45,-50,-55,-52,-50,-40,-35,-30,-25,-30,-28,-25,-28,-25,-27,-25,-28,-30,-30]
H2_t = [-2.3,-2.0,-1.8,-1.5,-1.3,-1.1,-0.9,-0.7,-0.55,-0.4,-0.25,-0.1,0.05,0.2,0.35,0.5,0.7,0.9,1.1,1.3,1.5,1.7,1.9,2.1,2.3,2.4,2.6,2.8,3.0,3.2,3.4,3.6,3.8,3.9,4.0,4.2,4.4,4.6,4.8,5.0,5.2,5.4,5.6,5.8,6.0,6.2,6.4,6.6,6.8,7.0,7.2,7.3,7.5,7.7,7.9,8.0]
H2_y = [-165,-160,-165,-160,-155,-140,-120,-95,-60,-30,10,45,70,80,82,75,65,55,50,48,52,50,55,50,40,30,45,50,45,30,10,-10,-30,-55,-40,-45,-50,-55,-50,-45,-55,-60,-50,-45,-40,-45,-50,-52,-60,-65,-80,-60,-55,-50,-55,-58]
H3_t = [-2.2,-1.9,-1.6,-1.3,-1.0,-0.8,-0.6,-0.45,-0.3,-0.15,0.0,0.15,0.3,0.45,0.6,0.8,1.0,1.2,1.4,1.6,1.8,2.0,2.2,2.4,2.6,2.8,3.0,3.2,3.4,3.6,3.8,3.9,4.0,4.1,4.2,4.3,4.4,4.5,4.6,4.7,4.8,4.95,5.05,5.15,5.3,5.45,5.5,5.6,5.7,5.85,5.95,6.05,6.2,6.4,6.6,6.8,7.0,7.2,7.4,7.6,7.8,7.9]
H3_y = [-165,-162,-165,-160,-150,-135,-110,-70,-30,10,50,75,85,87,80,75,70,68,72,70,68,70,68,65,62,60,65,70,68,60,40,20,5,-15,-40,10,45,5,-40,0,40,42,5,-5,42,15,-20,30,42,30,10,-30,-40,-50,-45,-55,-60,-55,-60,-55,-65,-60]
H4_t = [-2.5,-2.2,-1.9,-1.6,-1.3,-1.0,-0.8,-0.6,-0.45,-0.3,-0.15,0.0,0.15,0.3,0.45,0.6,0.8,1.0,1.2,1.4,1.6,1.8,2.0,2.2,2.4,2.6,2.8,3.0,3.2,3.4,3.6,3.8,4.0,4.2,4.4,4.6,4.8,4.9,5.1,5.3,5.5,5.7,5.9,6.1,6.3,6.5,6.7,6.9,7.1,7.3,7.5,7.6]
H4_y = [-155,-160,-165,-160,-158,-145,-125,-100,-60,-20,20,55,75,83,80,72,65,62,68,72,75,70,68,70,65,62,55,40,25,5,-10,-25,-30,-35,-45,-55,-60,-65,-80,-75,-70,-60,-50,-45,-40,-45,-50,-48,-50,-45,-55,-65]
H5_t = [-2.3,-2.0,-1.7,-1.4,-1.1,-0.9,-0.75,-0.65,-0.55,-0.45,-0.3,-0.15,0.0,0.15,0.3,0.45,0.6,0.8,1.0,1.2,1.4,1.6,1.8,2.0,2.2,2.4,2.6,2.8,3.0,3.2,3.35,3.5,3.6,3.7,3.8,4.0,4.1,4.3,4.5,4.7,4.9,5.1,5.3,5.5,5.7,5.9,6.1,6.3,6.5,6.7,6.9,7.1,7.3,7.5,7.7,7.9,8.0]
H5_y = [-170,-165,-170,-165,-160,-150,-140,-155,-120,-80,-40,0,40,70,82,83,78,70,65,62,65,68,62,60,58,55,58,60,55,50,40,60,30,-30,-40,0,-20,-40,-50,-45,-50,-55,-52,-58,-50,-35,-40,-45,-40,-50,-55,-52,-55,-50,-60,-65,-55]

# ---------------- panel definitions ----------------
panels = [
    dict(title='A) MOMENT V OSI DESNEGA GLEŽNJA', ylabel='[Nm]', ylim=(2, 22), ystep=2,
         box=(79, 42, 485, 401),
         curves=[(A1_t, A1_y), (A2_t, A2_y), (A3_t, A3_y), (A4_t, A4_y), (A5_t, A5_y)],
         notes=[('pričetek ' + RA, -2.65, 15.0), ('razbr. stola ' + RA, -2.83, 12.0),
                (LA + ' stoja', 4.59, 4.8), (LA + ' stabilizacija', 3.97, 3.9)]),
    dict(title='B) MOMENT V OSI DESNEGA KOLENA', ylabel='[Nm]', ylim=(-12, 8), ystep=2,
         box=(659, 43, 1065, 402),
         curves=[(B1_t, B1_y), (B2_t, B2_y), (B3_t, B3_y), (B4_t, B4_y), (B5_t, B5_y)],
         notes=[('razbr. stola ' + RA, -2.82, 7.0), ('pričetek ' + RA, -2.67, 3.0),
                (LA + ' stoja', 4.48, -7.1), (LA + ' stabilizacija', 3.91, -10.05)]),
    dict(title='C) MOMENT V OSI DESNEGA KOLKA', ylabel='[Nm]', ylim=(-25, 20), ystep=5,
         box=(77, 479, 483, 842),
         curves=[(C1_t, C1_y), (C2_t, C2_y), (C3_t, C3_y), (C4_t, C4_y), (C5_t, C5_y)],
         notes=[('pričetek ' + RA, -2.68, -12.1), ('razbr. stola ' + RA, -2.85, -17.0),
                (LA + ' stoja', 4.55, -12.2), (LA + ' stabilizacija', 3.98, -16.2)]),
    dict(title='D) MOMENT V OSI LUMBO-SAKRALNEGA SKLEPA', ylabel='[Nm]', ylim=(-40, 50), ystep=10,
         box=(657, 482, 1063, 843),
         curves=[(D1_t, D1_y), (D2_t, D2_y), (D3_t, D3_y), (D4_t, D4_y), (D5_t, D5_y)],
         notes=[('pričetek ' + RA, -2.74, -21.3), ('razbr. stola ' + RA, -2.89, -25.3),
                (LA + ' stoja', 4.49, -21.3), (LA + ' stabilizacija', 3.92, -25.3)]),
    dict(title='E) SILA V VERTIKALNI SMERI V DESNEM RAMENSKEM SKLEPU', ylabel='[N]', ylim=(-50, 300), ystep=50,
         box=(75, 927, 482, 1288),
         curves=[(E1_t, E1_y), (E2_t, E2_y), (E3_t, E3_y), (E4_t, E4_y), (E5_t, E5_y)],
         notes=[('pričetek ' + RA, -2.70, -41), (LA + ' razbr. stola', 0.02, -41),
                (LA + ' stoja', 4.53, -1), (LA + ' stabilizacija', 3.95, -32)]),
    dict(title='F)SILA V HORIZONTALNI SMERI V DESNEM RAMENSKEM SKLEPU', ylabel='[N]', ylim=(-20, 50), ystep=10,
         box=(658, 923, 1063, 1285),
         curves=[(F1_t, F1_y), (F2_t, F2_y), (F3_t, F3_y), (F4_t, F4_y), (F5_t, F5_y)],
         notes=[('pričetek ' + RA, -2.77, -15.4), ('razbr. stola ' + RA, -2.92, -18.1),
                (LA + ' stoja', 4.48, -15.4), (LA + ' stabilizacija', 3.90, -18.1)]),
    dict(title='G)MOMENT V SAGITALNI RAVNINI V DESNEM RAMENSKEM SKLEPU', ylabel='[Nm]', ylim=(-40, 20), ystep=10,
         box=(74, 1367, 482, 1727),
         curves=[(G1_t, G1_y), (G2_t, G2_y), (G3_t, G3_y), (G4_t, G4_y), (G5_t, G5_y)],
         notes=[('pričetek ' + RA, -2.67, -20.2), ('razbr. stola ' + RA, -2.86, -35.2),
                (LA + ' stoja', 4.56, -20.2), (LA + ' stabilizacija', 3.97, -35.2)]),
    dict(title='H) SILA V VERTIKALNI SMERI V SKLEPU DESNEGA KOLKA', ylabel='[N]', ylim=(-200, 100), ystep=50,
         box=(656, 1366, 1063, 1726),
         curves=[(H1_t, H1_y), (H2_t, H2_y), (H3_t, H3_y), (H4_t, H4_y), (H5_t, H5_y)],
         notes=[('razbr. stola ' + RA, -2.89, -171), ('pričetek ' + RA, -2.71, -187),
                (LA + ' stoja', 4.46, -151), (LA + 'stabilizacija', 3.88, -171)]),
]

x_ticks = [-4, -2, 0, 2, 4, 6, 8, 10]

W, H = 1171, 1771
fig = plt.figure(figsize=(W / 100, H / 100), dpi=100, facecolor='#c8c8c8')
fig.patches.append(Rectangle((0, 1 - 9 / H), 1, 9 / H, transform=fig.transFigure,
                             facecolor='white', edgecolor='none', zorder=0))

for p in panels:
    x0, y0, x1, y1 = p['box']
    ax = fig.add_axes([x0 / W, 1 - y1 / H, (x1 - x0) / W, (y1 - y0) / H])
    ax.set_facecolor('white')
    for t, y in p['curves']:
        ax.plot(t, y, color='black', lw=0.9, zorder=3)
    lo, hi = p['ylim']
    ax.set_xlim(-4, 10)
    ax.set_ylim(lo, hi)
    ax.set_xticks(x_ticks)
    ax.set_xticklabels([str(v) for v in x_ticks])
    yt = list(range(lo, hi + 1, p['ystep']))
    ax.set_yticks(yt)
    ax.set_yticklabels([str(v) for v in yt])
    ax.grid(True, color='black', linestyle=(0, (1.5, 3)), linewidth=0.9)
    ax.tick_params(direction='in', length=4, width=0.8, top=True, right=True,
                   labelsize=9.5, pad=3, colors='black')
    for s in ax.spines.values():
        s.set_linewidth(1.0)
        s.set_color('black')
    ax.set_title(p['title'], fontsize=9, pad=6)
    ax.set_xlabel('t[s]', fontsize=9.5, labelpad=2)
    ax.set_ylabel(p['ylabel'], fontsize=9.5, labelpad=2)
    for txt, tx, ty in p['notes']:
        ax.text(tx, ty, txt, fontsize=9.5, ha='left', va='center', zorder=4)

fig.savefig('out.png', dpi=100, facecolor=fig.get_facecolor())
